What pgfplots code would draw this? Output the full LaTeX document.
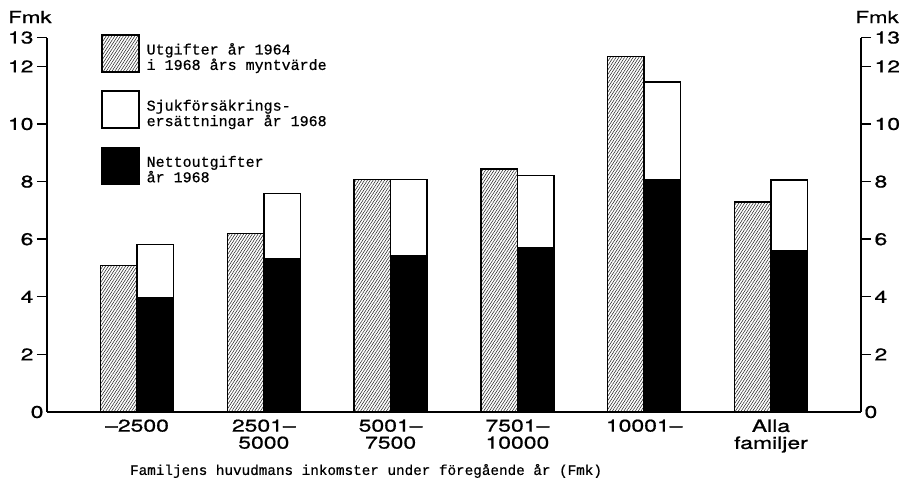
\documentclass[border=0pt]{standalone}
\usepackage{fontspec}
\setmainfont{TeX Gyre Heros}
\setsansfont[FakeStretch=1.35,FakeBold=0.8]{TeX Gyre Heros}
\setmonofont[FakeBold=0.6]{Liberation Mono}
\usepackage{pgfplots}
\pgfplotsset{compat=1.18}
\usetikzlibrary{patterns.meta}
\begin{document}
\begin{tikzpicture}
\useasboundingbox (-47pt,-74pt) rectangle (856pt,412pt);
\begin{axis}[
  scale only axis,
  width=814pt, height=374.4pt,
  at={(0,0)}, anchor=south west,
  clip=false,
  xmin=-0.71, xmax=5.71,
  ymin=0, ymax=13,
  axis x line*=bottom,
  axis y line*=left,
  axis line style={-, line width=1.4pt},
  xtick={0,1,2,3,4,5},
  xticklabels={–2500,{2501–\\5000},{5001–\\7500},{7501–\\10000},10001–,{Alla\\familjer}},
  xticklabel style={align=center, font=\fontsize{17}{17}\selectfont\sffamily, yshift=6pt},
  x tick style={draw=none},
  ytick={2,4,6,8,10,12,13},
  extra y ticks={0},
  extra y tick style={major tick length=0pt},
  tick align=outside,
  major tick length=10pt,
  y tick style={line width=1.4pt, black},
  yticklabel style={font=\fontsize{17}{17}\selectfont\sffamily},
  /pgf/number format/assume math mode=true,
  ybar,
  bar width=36.5pt,
  legend style={draw=none, fill=none, at={(0.0663,1.01)}, anchor=north west,
    font=\fontsize{15}{13.5}\selectfont\ttfamily, row sep=17pt,
    cells={align=left, anchor=west}, inner sep=0pt},
  legend image code/.code={\draw[#1, line width=1.5pt] (0pt,-14.5pt) rectangle (37pt,22.5pt); \path (42pt,0pt);},
  legend cell align=left,
]
\addplot[draw=black, line width=1.5pt, bar shift=-18.25pt,
  pattern={Lines[angle=57,distance=2.4pt,line width=0.55pt]}, pattern color=black!85]
  coordinates {(0,5.08) (1,6.2) (2,8.08) (3,8.43) (4,12.34) (5,7.3)};
\addlegendentry{Utgifter år 1964\\i 1968 års myntvärde}
\addplot[draw=black, fill=white, line width=1.5pt, bar shift=18.25pt]
  coordinates {(0,5.82) (1,7.58) (2,8.08) (3,8.22) (4,11.45) (5,8.05)};
\addlegendentry{Sjukförsäkrings-\\ersättningar år 1968}
\addplot[draw=black, fill=black, line width=1.5pt, bar shift=18.25pt]
  coordinates {(0,3.98) (1,5.31) (2,5.44) (3,5.7) (4,8.07) (5,5.6)};
\addlegendentry{Nettoutgifter\\år 1968}
\node[font=\fontsize{16.5}{16}\selectfont\sffamily] at (axis description cs:-0.021,1.055) {Fmk};
\node[font=\fontsize{16.5}{16}\selectfont\sffamily] at (axis description cs:1.0197,1.055) {Fmk};
\node[font=\fontsize{14.3}{14}\selectfont\ttfamily] at (axis description cs:0.392,-0.1576) {Familjens huvudmans inkomster under föregående år (Fmk)};
\end{axis}
\begin{axis}[
  scale only axis,
  width=814pt, height=374.4pt,
  at={(0,0)}, anchor=south west,
  xmin=-0.71, xmax=5.71,
  ymin=0, ymax=13,
  axis x line=none,
  axis y line*=right,
  axis line style={-, line width=1.4pt},
  ytick={2,4,6,8,10,12,13},
  extra y ticks={0},
  extra y tick style={major tick length=0pt},
  tick align=outside,
  major tick length=10pt,
  y tick style={line width=1.4pt, black},
  yticklabel style={font=\fontsize{17}{17}\selectfont\sffamily},
  /pgf/number format/assume math mode=true,
]
\addplot[draw=none] coordinates {(0,0)};
\end{axis}
\end{tikzpicture}
\end{document}
